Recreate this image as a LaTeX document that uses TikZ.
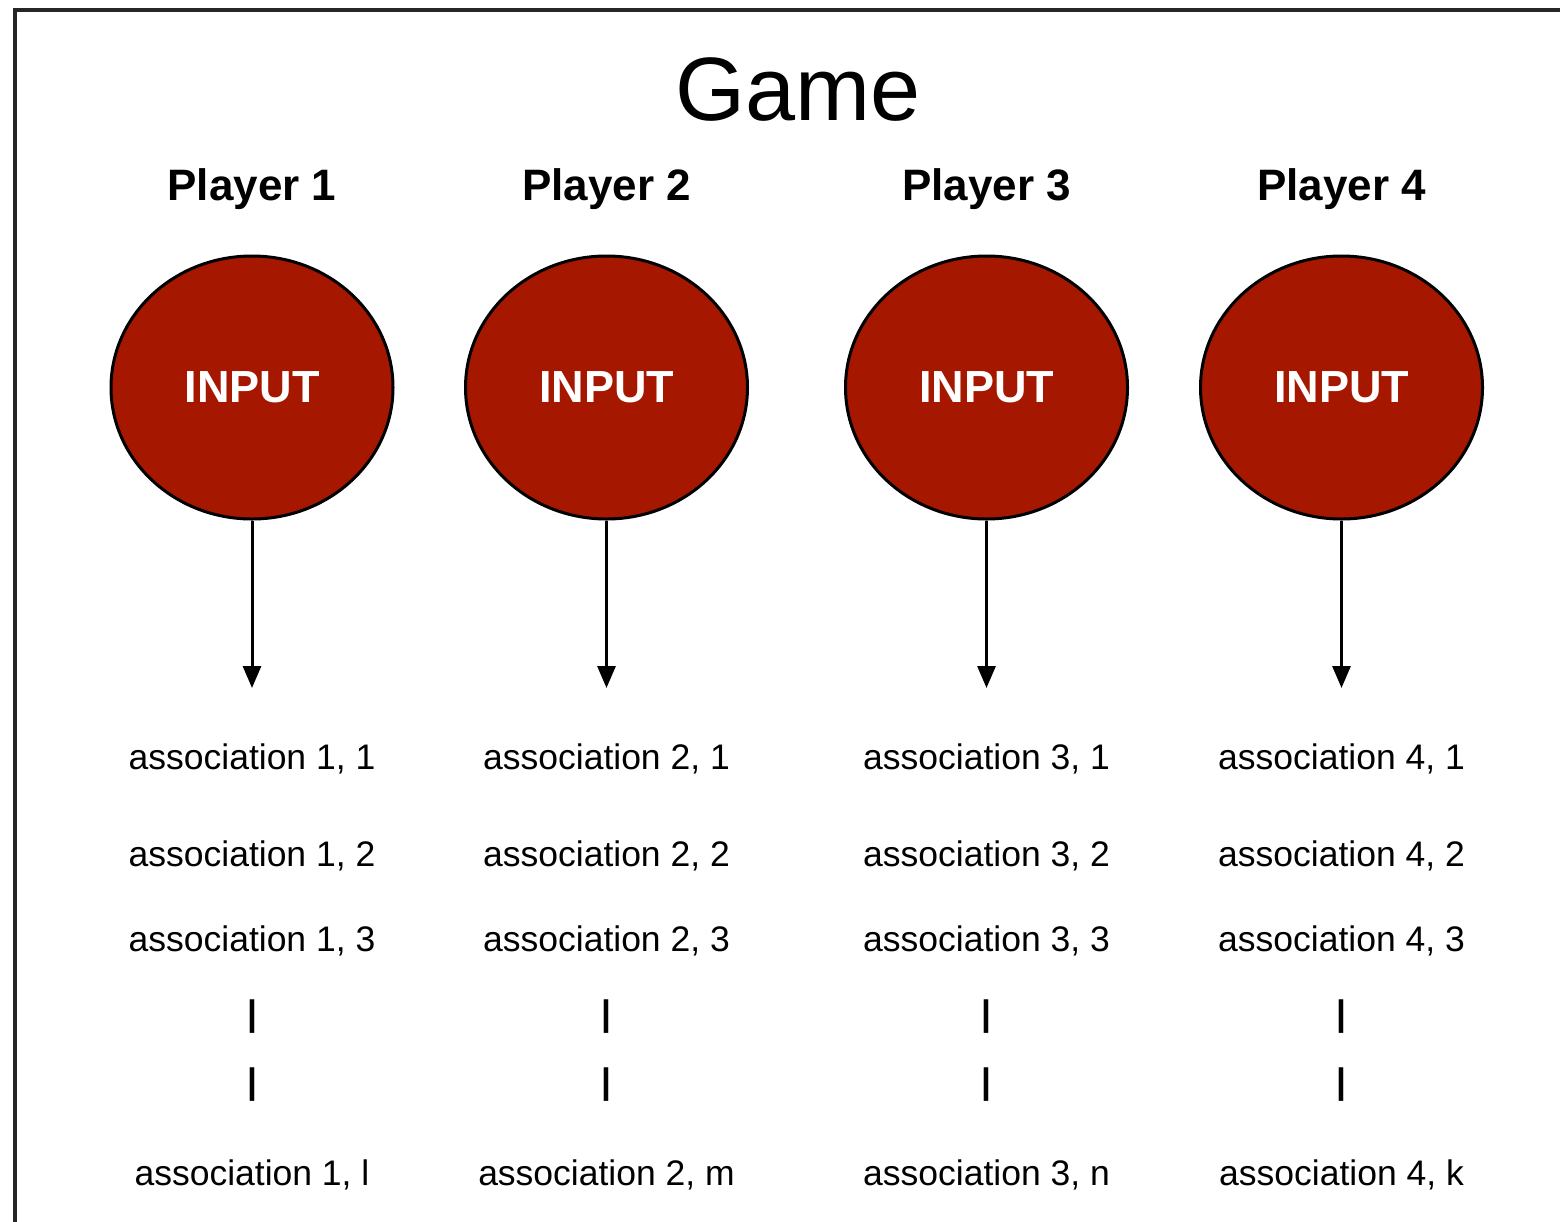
\documentclass[tikz,border=0pt]{standalone}
\usepackage{fontspec}
\setmainfont{Liberation Sans}
\usetikzlibrary{arrows.meta,shapes.geometric}
\definecolor{inputred}{HTML}{A61700}
\tikzset{
  frame/.style={draw=black!85, line width=3.5pt},
  title/.style={font=\fontsize{90}{100}\selectfont, anchor=base},
  player/.style={font=\bfseries\fontsize{44}{50}\selectfont, anchor=base},
  inputnode/.style={ellipse, draw=black, line width=3pt, fill=inputred,
    minimum width=282pt, minimum height=263pt, inner sep=0pt,
    text=white, font=\bfseries\fontsize{45}{50}\selectfont},
  flow/.style={line width=3pt, -{Triangle[width=18pt,length=22pt]}},
  assoc/.style={font=\fontsize{35.5}{40}\selectfont, anchor=base},
  gap/.style={font=\bfseries\fontsize{35.5}{40}\selectfont}
}
\begin{document}
\begin{tikzpicture}[x=1pt,y=-1pt]
  \useasboundingbox (0,0) rectangle (1560,1221);
  \begin{scope}
    \clip (0,0) rectangle (1560,1221);
    \draw[frame] (15,10) rectangle (1620,1280);
  \end{scope}

  \node[title] (game) at (798,120) {Game};

  % one column per player
  \foreach \i/\x/\last in {1/252/l, 2/606.5/m, 3/986.5/n, 4/1341.5/k} {
    \node[player] (p\i) at (\x,200) {Player \i};
    \node[inputnode] (in\i) at (\x,387.5) {INPUT};
    \coordinate (tip\i) at (\x,688);
    \draw[flow] (in\i.south) -- (tip\i);
    \node[assoc] (a\i1) at (\x,769) {association \i, 1};
    \node[assoc] (a\i2) at (\x,866) {association \i, 2};
    \node[assoc] (a\i3) at (\x,951) {association \i, 3};
    \node[gap] (g\i1) at (\x,1017) {|};
    \node[gap] (g\i2) at (\x,1085) {|};
    \node[assoc] (a\i x) at (\x,1185) {association \i, \last};
  }
\end{tikzpicture}
\end{document}
